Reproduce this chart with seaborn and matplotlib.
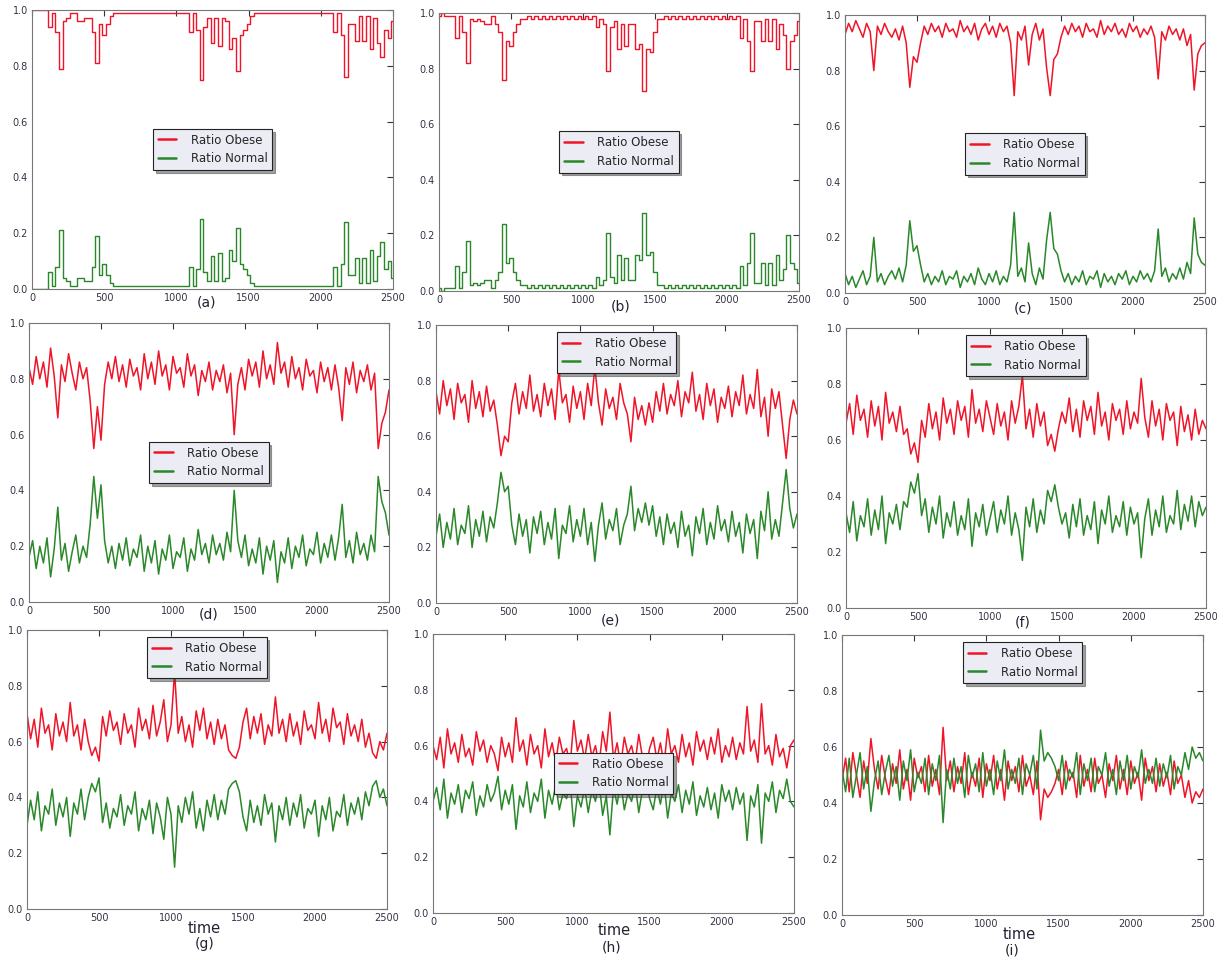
import numpy as np
import pandas as pd
import matplotlib
matplotlib.use('Agg')
import matplotlib.pyplot as plt
import seaborn as sns

TIME = list(range(0, 2501, 25))

OBESE_A = [100, 100, 100, 100, 100, 94, 99, 92, 79, 96,
           97, 99, 99, 96, 96, 97, 97, 92, 81, 95,
           91, 95, 98, 99, 99, 99, 99, 99, 99, 99,
           99, 99, 99, 99, 99, 99, 99, 99, 99, 99,
           99, 99, 99, 99, 92, 99, 93, 75, 94, 97,
           88, 97, 87, 97, 96, 86, 90, 78, 91, 93,
           95, 98, 99, 99, 99, 99, 99, 99, 99, 99,
           99, 99, 99, 99, 99, 99, 99, 99, 99, 99,
           99, 99, 99, 99, 92, 99, 91, 76, 95, 95,
           89, 98, 89, 98, 86, 97, 88, 83, 93, 90,
           96]
NORMAL_A = [0, 0, 0, 0, 0, 6, 1, 8, 21, 4,
            3, 1, 1, 4, 4, 3, 3, 8, 19, 5,
            9, 5, 2, 1, 1, 1, 1, 1, 1, 1,
            1, 1, 1, 1, 1, 1, 1, 1, 1, 1,
            1, 1, 1, 1, 8, 1, 7, 25, 6, 3,
            12, 3, 13, 3, 4, 14, 10, 22, 9, 7,
            5, 2, 1, 1, 1, 1, 1, 1, 1, 1,
            1, 1, 1, 1, 1, 1, 1, 1, 1, 1,
            1, 1, 1, 1, 8, 1, 9, 24, 5, 5,
            11, 2, 11, 2, 14, 3, 12, 17, 7, 10,
            4]

OBESE_B = [99, 100, 99, 99, 99, 91, 99, 93, 82, 98,
           97, 98, 97, 96, 96, 99, 96, 93, 76, 90,
           88, 93, 96, 98, 98, 99, 98, 99, 98, 99,
           98, 99, 98, 99, 98, 99, 98, 99, 98, 99,
           98, 99, 98, 99, 95, 98, 96, 79, 95, 97,
           87, 96, 88, 96, 96, 87, 89, 72, 87, 86,
           93, 98, 98, 99, 98, 99, 98, 99, 98, 99,
           98, 99, 98, 99, 98, 99, 98, 99, 98, 99,
           98, 99, 98, 99, 91, 98, 90, 79, 97, 97,
           90, 98, 90, 98, 87, 96, 92, 80, 90, 92,
           97]
NORMAL_B = [1, 0, 1, 1, 1, 9, 1, 7, 18, 2,
            3, 2, 3, 4, 4, 1, 4, 7, 24, 10,
            12, 7, 4, 2, 2, 1, 2, 1, 2, 1,
            2, 1, 2, 1, 2, 1, 2, 1, 2, 1,
            2, 1, 2, 1, 5, 2, 4, 21, 5, 3,
            13, 4, 12, 4, 4, 13, 11, 28, 13, 14,
            7, 2, 2, 1, 2, 1, 2, 1, 2, 1,
            2, 1, 2, 1, 2, 1, 2, 1, 2, 1,
            2, 1, 2, 1, 9, 2, 10, 21, 3, 3,
            10, 2, 10, 2, 13, 4, 8, 20, 10, 8,
            3]

OBESE_C = [93, 97, 94, 98, 95, 92, 97, 94, 80, 96,
           93, 97, 94, 92, 95, 91, 96, 90, 74, 85,
           83, 90, 96, 93, 97, 94, 96, 92, 97, 94,
           95, 92, 98, 94, 96, 93, 97, 91, 95, 97,
           93, 96, 92, 97, 94, 96, 90, 71, 94, 91,
           96, 82, 93, 97, 91, 95, 81, 71, 84, 86,
           92, 96, 93, 97, 94, 96, 92, 97, 94, 95,
           92, 98, 93, 96, 94, 97, 93, 95, 92, 97,
           94, 96, 92, 95, 93, 96, 92, 77, 94, 91,
           96, 93, 95, 91, 95, 89, 93, 73, 86, 89,
           90]
NORMAL_C = [7, 3, 6, 2, 5, 8, 3, 6, 20, 4,
            7, 3, 6, 8, 5, 9, 4, 10, 26, 15,
            17, 10, 4, 7, 3, 6, 4, 8, 3, 6,
            5, 8, 2, 6, 4, 7, 3, 9, 5, 3,
            7, 4, 8, 3, 6, 4, 10, 29, 6, 9,
            4, 18, 7, 3, 9, 5, 19, 29, 16, 14,
            8, 4, 7, 3, 6, 4, 8, 3, 6, 5,
            8, 2, 7, 4, 6, 3, 7, 5, 8, 3,
            6, 4, 8, 5, 7, 4, 8, 23, 6, 9,
            4, 7, 5, 9, 5, 11, 7, 27, 14, 11,
            10]

OBESE_D = [84, 78, 88, 80, 86, 77, 91, 81, 66, 85,
           79, 89, 82, 76, 86, 80, 84, 72, 55, 70,
           58, 78, 86, 80, 88, 79, 85, 77, 87, 81,
           84, 76, 89, 80, 86, 78, 90, 81, 85, 76,
           88, 82, 84, 77, 89, 81, 85, 74, 83, 79,
           86, 76, 83, 79, 85, 75, 82, 60, 78, 84,
           76, 87, 81, 86, 77, 90, 80, 85, 78, 93,
           82, 86, 77, 88, 80, 84, 76, 87, 81, 83,
           75, 86, 79, 84, 76, 85, 77, 65, 84, 78,
           86, 75, 83, 79, 85, 76, 82, 55, 64, 68,
           76]
NORMAL_D = [16, 22, 12, 20, 14, 23, 9, 19, 34, 15,
            21, 11, 18, 24, 14, 20, 16, 28, 45, 30,
            42, 22, 14, 20, 12, 21, 15, 23, 13, 19,
            16, 24, 11, 20, 14, 22, 10, 19, 15, 24,
            12, 18, 16, 23, 11, 19, 15, 26, 17, 21,
            14, 24, 17, 21, 15, 25, 18, 40, 22, 16,
            24, 13, 19, 14, 23, 10, 20, 15, 22, 7,
            18, 14, 23, 12, 20, 16, 24, 13, 19, 17,
            25, 14, 21, 16, 24, 15, 23, 35, 16, 22,
            14, 25, 17, 21, 15, 24, 18, 45, 36, 32,
            24]

OBESE_E = [76, 68, 80, 71, 77, 66, 79, 72, 75, 65,
           80, 70, 76, 67, 78, 69, 73, 64, 53, 60,
           58, 72, 79, 68, 76, 70, 82, 69, 75, 67,
           79, 71, 77, 66, 84, 72, 75, 65, 78, 70,
           76, 66, 79, 71, 85, 72, 64, 77, 70, 74,
           66, 79, 72, 68, 58, 74, 66, 71, 64, 72,
           65, 76, 69, 79, 68, 75, 71, 80, 67, 76,
           72, 83, 69, 75, 66, 79, 71, 77, 65, 74,
           70, 78, 67, 76, 71, 82, 68, 75, 70, 84,
           67, 74, 60, 77, 70, 76, 64, 52, 66, 73,
           68]
NORMAL_E = [24, 32, 20, 29, 23, 34, 21, 28, 25, 35,
            20, 30, 24, 33, 22, 31, 27, 36, 47, 40,
            42, 28, 21, 32, 24, 30, 18, 31, 25, 33,
            21, 29, 23, 34, 16, 28, 25, 35, 22, 30,
            24, 34, 21, 29, 15, 28, 36, 23, 30, 26,
            34, 21, 28, 32, 42, 26, 34, 29, 36, 28,
            35, 24, 31, 21, 32, 25, 29, 20, 33, 24,
            28, 17, 31, 25, 34, 21, 29, 23, 35, 26,
            30, 22, 33, 24, 29, 18, 32, 25, 30, 16,
            33, 26, 40, 23, 30, 24, 36, 48, 34, 27,
            32]

OBESE_F = [66, 73, 62, 76, 67, 71, 61, 74, 65, 72,
           60, 77, 66, 70, 63, 72, 62, 64, 55, 59,
           52, 67, 61, 73, 64, 70, 60, 75, 66, 71,
           62, 74, 67, 72, 61, 78, 66, 71, 63, 74,
           68, 62, 73, 65, 70, 60, 74, 66, 72, 83,
           64, 71, 61, 73, 65, 70, 58, 62, 56, 64,
           70, 66, 75, 63, 71, 61, 74, 67, 72, 62,
           77, 65, 70, 60, 73, 67, 71, 62, 74, 64,
           70, 66, 82, 68, 61, 74, 65, 71, 60, 73,
           67, 70, 58, 72, 63, 69, 60, 71, 62, 67,
           64]
NORMAL_F = [34, 27, 38, 24, 33, 29, 39, 26, 35, 28,
            40, 23, 34, 30, 37, 28, 38, 36, 45, 41,
            48, 33, 39, 27, 36, 30, 40, 25, 34, 29,
            38, 26, 33, 28, 39, 22, 34, 29, 37, 26,
            32, 38, 27, 35, 30, 40, 26, 34, 28, 17,
            36, 29, 39, 27, 35, 30, 42, 38, 44, 36,
            30, 34, 25, 37, 29, 39, 26, 33, 28, 38,
            23, 35, 30, 40, 27, 33, 29, 38, 26, 36,
            30, 34, 18, 32, 39, 26, 35, 29, 40, 27,
            33, 30, 42, 28, 37, 31, 40, 29, 38, 33,
            36]

OBESE_G = [70, 61, 68, 58, 72, 63, 66, 57, 70, 62,
           67, 60, 74, 62, 66, 57, 68, 60, 55, 58,
           53, 69, 62, 71, 64, 67, 59, 70, 63, 66,
           58, 72, 64, 68, 61, 73, 62, 67, 75, 60,
           66, 85, 63, 69, 60, 66, 58, 71, 64, 72,
           61, 67, 59, 68, 61, 66, 57, 55, 54, 58,
           67, 72, 61, 69, 63, 70, 59, 66, 62, 76,
           63, 68, 60, 70, 62, 67, 59, 71, 64, 66,
           61, 74, 63, 68, 60, 72, 65, 67, 59, 70,
           62, 66, 60, 68, 58, 63, 56, 54, 60, 57,
           63]
NORMAL_G = [30, 39, 32, 42, 28, 37, 34, 43, 30, 38,
            33, 40, 26, 38, 34, 43, 32, 40, 45, 42,
            47, 31, 38, 29, 36, 33, 41, 30, 37, 34,
            42, 28, 36, 32, 39, 27, 38, 33, 25, 40,
            34, 15, 37, 31, 40, 34, 42, 29, 36, 28,
            39, 33, 41, 32, 39, 34, 43, 45, 46, 42,
            33, 28, 39, 31, 37, 30, 41, 34, 38, 24,
            37, 32, 40, 30, 38, 33, 41, 29, 36, 34,
            39, 26, 37, 32, 40, 28, 35, 33, 41, 30,
            38, 34, 40, 32, 42, 37, 44, 46, 40, 43,
            37]

OBESE_H = [60, 55, 63, 52, 66, 57, 61, 54, 64, 56,
           59, 53, 65, 58, 62, 54, 60, 57, 51, 63,
           56, 61, 54, 70, 58, 62, 53, 64, 57, 60,
           52, 66, 56, 61, 54, 63, 57, 59, 53, 69,
           58, 62, 55, 64, 56, 60, 53, 65, 58, 72,
           55, 61, 53, 63, 57, 60, 54, 64, 56, 52,
           59, 63, 55, 61, 53, 66, 57, 60, 54, 64,
           56, 61, 53, 65, 58, 62, 55, 63, 57, 66,
           54, 60, 56, 63, 55, 61, 57, 74, 58, 62,
           54, 75, 57, 60, 53, 64, 56, 59, 52, 60,
           62]
NORMAL_H = [40, 45, 37, 48, 34, 43, 39, 46, 36, 44,
            41, 47, 35, 42, 38, 46, 40, 43, 49, 37,
            44, 39, 46, 30, 42, 38, 47, 36, 43, 40,
            48, 34, 44, 39, 46, 37, 43, 41, 47, 31,
            42, 38, 45, 36, 44, 40, 47, 35, 42, 28,
            45, 39, 47, 37, 43, 40, 46, 36, 44, 48,
            41, 37, 45, 39, 47, 34, 43, 40, 46, 36,
            44, 39, 47, 35, 42, 38, 45, 37, 43, 34,
            46, 40, 44, 37, 45, 39, 43, 26, 42, 38,
            46, 25, 43, 40, 47, 36, 44, 41, 48, 40,
            38]

OBESE_I = [48, 56, 44, 58, 50, 42, 55, 47, 63, 52,
           45, 57, 49, 43, 54, 47, 59, 45, 52, 41,
           56, 49, 53, 44, 57, 46, 52, 43, 67, 48,
           55, 44, 53, 47, 58, 43, 51, 46, 56, 42,
           54, 48, 57, 45, 52, 41, 55, 48, 53, 44,
           57, 46, 50, 43, 55, 34, 45, 42, 44, 47,
           52, 43, 55, 48, 51, 42, 57, 46, 52, 44,
           56, 47, 50, 42, 54, 48, 57, 45, 52, 43,
           55, 47, 51, 41, 56, 48, 53, 44, 54, 46,
           51, 43, 55, 47, 50, 42, 48, 40, 44, 42,
           45]
NORMAL_I = [52, 44, 56, 42, 50, 58, 45, 53, 37, 48,
            55, 43, 51, 57, 46, 53, 41, 55, 48, 59,
            44, 51, 47, 56, 43, 54, 48, 57, 33, 52,
            45, 56, 47, 53, 42, 57, 49, 54, 44, 58,
            46, 52, 43, 55, 48, 59, 45, 52, 47, 56,
            43, 54, 50, 57, 45, 66, 55, 58, 56, 53,
            48, 57, 45, 52, 49, 58, 43, 54, 48, 56,
            44, 53, 50, 58, 46, 52, 43, 55, 48, 57,
            45, 53, 49, 59, 47, 52, 47, 56, 46, 54,
            49, 57, 45, 53, 50, 58, 52, 60, 56, 58,
            55]

PANEL_NAMES = ['(a)', '(b)', '(c)', '(d)', '(e)', '(f)', '(g)', '(h)', '(i)']
OBESE = [OBESE_A, OBESE_B, OBESE_C, OBESE_D, OBESE_E, OBESE_F, OBESE_G, OBESE_H, OBESE_I]
NORMAL = [NORMAL_A, NORMAL_B, NORMAL_C, NORMAL_D, NORMAL_E, NORMAL_F, NORMAL_G, NORMAL_H, NORMAL_I]

# layout in pixels: axes box (left, top, right, bottom), panel label centre, legend placement
W, H = 1225, 963
AX_BOX = [(32, 10, 393, 289), (439, 13, 799, 291), (845, 15, 1205, 293),
          (29, 323, 389, 602), (436, 325, 797, 603), (846, 328, 1206, 608),
          (27, 630, 387, 909), (433, 634, 794, 913), (842, 635, 1203, 915)]
LABEL_POS = [(206, 302), (621, 307), (1023, 308),
             (209, 615), (610, 620), (1023, 622),
             (205, 944), (612, 947), (1012, 950)]
TIME_POS = [None, None, None, None, None, None, (204, 928), (614, 930), (1019, 934)]
LEGEND_LOC = ['center', 'center', 'center', 'center', 'upper center', 'upper center',
              'upper center', 'center', 'upper center']
# the two near-absorbing runs look stepped, the rest are dense noise
DRAWSTYLE = ['steps-mid', 'steps-mid', 'default', 'default', 'default', 'default',
             'default', 'default', 'default']

RED = '#f01428'
GREEN = '#2a882a'

sns.set_theme(style='white')
plt.rcParams['font.family'] = ['DejaVu Sans']

fig = plt.figure(figsize=(W / 100, H / 100), dpi=100)

for k in range(9):
    l, t, r, b = AX_BOX[k]
    ax = fig.add_axes([l / W, 1 - b / H, (r - l) / W, (b - t) / H])
    df = pd.DataFrame({'time': TIME,
                       'obese': np.array(OBESE[k]) / 100.0,
                       'normal': np.array(NORMAL[k]) / 100.0})
    lw = 1.0 if DRAWSTYLE[k] == 'steps-mid' else 1.1
    sns.lineplot(data=df, x='time', y='obese', ax=ax, color=RED, linewidth=lw,
                 drawstyle=DRAWSTYLE[k], label='Ratio Obese')
    sns.lineplot(data=df, x='time', y='normal', ax=ax, color=GREEN, linewidth=lw,
                 drawstyle=DRAWSTYLE[k], label='Ratio Normal')
    ax.set_xlim(0, 2500)
    ax.set_ylim(0, 1.0)
    ax.set_xticks([0, 500, 1000, 1500, 2000, 2500])
    ax.set_yticks([0.0, 0.2, 0.4, 0.6, 0.8, 1.0])
    ax.set_yticklabels(['0.0', '0.2', '0.4', '0.6', '0.8', '1.0'])
    ax.set_xlabel('')
    ax.set_ylabel('')
    ax.tick_params(direction='in', top=True, right=True, length=4, width=0.8,
                   labelsize=7, colors='#333344', pad=3)
    for sp in ax.spines.values():
        sp.set_color('#777777')
        sp.set_linewidth(0.8)

    if LEGEND_LOC[k] == 'center':
        anchor = (0.5, 0.5)
    else:
        anchor = (0.5, 1 - 7 / (b - t))
    leg = ax.legend(loc=LEGEND_LOC[k], bbox_to_anchor=anchor, borderaxespad=0,
                    fontsize=8.5, shadow=True, fancybox=False, frameon=True,
                    handlelength=1.6, handletextpad=1.2, borderpad=0.4)
    leg.get_frame().set_facecolor('#ececf4')
    leg.get_frame().set_edgecolor('#222222')
    leg.get_frame().set_linewidth(0.8)
    leg.get_frame().set_alpha(1)
    for h in leg.legend_handles:
        h.set_linewidth(1.8)

    x, y = LABEL_POS[k]
    fig.text(x / W, 1 - y / H, PANEL_NAMES[k], ha='center', va='center', fontsize=10,
             color='#222233')
    if TIME_POS[k] is not None:
        x, y = TIME_POS[k]
        fig.text(x / W, 1 - y / H, 'time', ha='center', va='center', fontsize=10.5,
                 color='#222233')

fig.savefig('out.png', dpi=100)
